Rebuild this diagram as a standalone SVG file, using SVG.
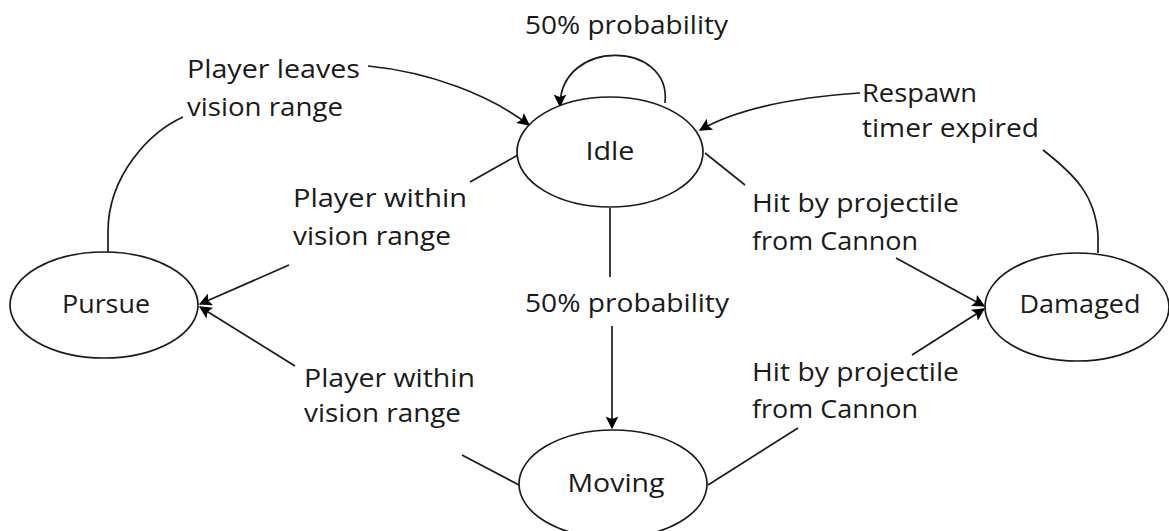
<svg xmlns="http://www.w3.org/2000/svg" width="1169" height="531" viewBox="0 0 1169 531">
<style>
.node ellipse{fill:#fff;stroke:#1a1a1a;stroke-width:1.7}
text{font-family:"Open Sans","Liberation Sans",sans-serif;font-size:25px;fill:#1a1a1a}
.nl{text-anchor:middle}
.c{fill:none;stroke:#1a1a1a;stroke-width:1.7}
</style>
<defs>
<marker id="ah" viewBox="0 0 10 10" refX="9" refY="5" markerWidth="8.5" markerHeight="7.5" markerUnits="strokeWidth" orient="auto">
<path d="M0,0 L10,5 L0,10 L2,5 Z" fill="#000"/>
</marker>
</defs>
<rect width="1169" height="531" fill="#fff"/>
<g id="connectors">
<path class="c" d="M665,103 C672,40 560,38 560,106" marker-end="url(#ah)"/>
<path class="c" d="M368,66 C430,72 490,95 529,125" marker-end="url(#ah)"/>
<path class="c" d="M108,252 L108,232 C108,175 150,132 183,117"/>
<path class="c" d="M518,155 L470,182"/>
<path class="c" d="M289,265 L200,304" marker-end="url(#ah)"/>
<path class="c" d="M519,485 L462,455"/>
<path class="c" d="M295,366 L200,307" marker-end="url(#ah)"/>
<path class="c" d="M705,153 L745,185"/>
<path class="c" d="M896,258 L984,306" marker-end="url(#ah)"/>
<path class="c" d="M708,485 L798,428"/>
<path class="c" d="M912,355 L984,309" marker-end="url(#ah)"/>
<path class="c" d="M1098,253 L1098,235 C1095,195 1075,175 1043,150"/>
<path class="c" d="M860,93 C800,97 740,107 700,130" marker-end="url(#ah)"/>
<path class="c" d="M610,208 L610,277"/>
<path class="c" d="M612,326 L612,428" marker-end="url(#ah)"/>
</g>
<g id="idle" class="node"><ellipse cx="610" cy="152" rx="93" ry="55"/><text class="nl" x="610" y="160" textLength="49" lengthAdjust="spacingAndGlyphs">Idle</text></g>
<g id="pursue" class="node"><ellipse cx="104" cy="305" rx="94" ry="53"/><text class="nl" x="106" y="313" textLength="88" lengthAdjust="spacingAndGlyphs">Pursue</text></g>
<g id="damaged" class="node"><ellipse cx="1077" cy="307" rx="92" ry="54"/><text class="nl" x="1080" y="313" textLength="121" lengthAdjust="spacingAndGlyphs">Damaged</text></g>
<g id="moving" class="node"><ellipse cx="613" cy="484" rx="94" ry="54"/><text class="nl" x="616" y="492" textLength="97" lengthAdjust="spacingAndGlyphs">Moving</text></g>
<g id="labels">
<text x="525" y="34" textLength="203" lengthAdjust="spacingAndGlyphs">50% probability</text>
<text x="187" y="78" textLength="173" lengthAdjust="spacingAndGlyphs">Player leaves</text>
<text x="187" y="116" textLength="156" lengthAdjust="spacingAndGlyphs">vision range</text>
<text x="862" y="102" textLength="115" lengthAdjust="spacingAndGlyphs">Respawn</text>
<text x="862" y="137" textLength="177" lengthAdjust="spacingAndGlyphs">timer expired</text>
<text x="293" y="207" textLength="174" lengthAdjust="spacingAndGlyphs">Player within</text>
<text x="293" y="245" textLength="158" lengthAdjust="spacingAndGlyphs">vision range</text>
<text x="752" y="212" textLength="207" lengthAdjust="spacingAndGlyphs">Hit by projectile</text>
<text x="752" y="250" textLength="166" lengthAdjust="spacingAndGlyphs">from Cannon</text>
<text x="525" y="312" textLength="204" lengthAdjust="spacingAndGlyphs">50% probability</text>
<text x="304" y="387" textLength="171" lengthAdjust="spacingAndGlyphs">Player within</text>
<text x="304" y="422" textLength="157" lengthAdjust="spacingAndGlyphs">vision range</text>
<text x="752" y="381" textLength="207" lengthAdjust="spacingAndGlyphs">Hit by projectile</text>
<text x="752" y="418" textLength="166" lengthAdjust="spacingAndGlyphs">from Cannon</text>
</g>
</svg>
